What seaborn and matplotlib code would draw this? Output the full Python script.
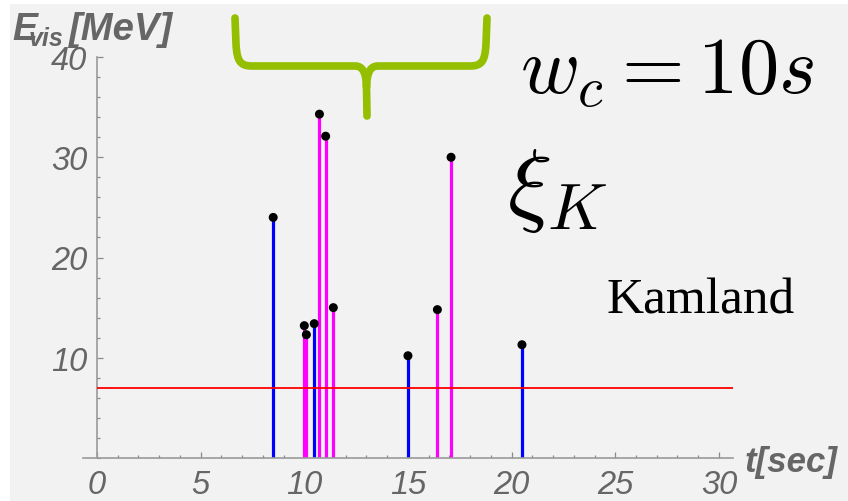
import numpy as np
import pandas as pd
import matplotlib
matplotlib.use("Agg")
import matplotlib.pyplot as plt
import seaborn as sns
from matplotlib.path import Path
from matplotlib.patches import PathPatch, Rectangle
from matplotlib.ticker import MultipleLocator, FixedLocator

# ---- data ----
blue_t = [8.5, 10.48, 15.0, 20.5]
blue_e = [24.0, 13.4, 10.2, 11.3]
magenta_t = [10.0, 10.1, 10.73, 11.03, 11.4, 16.42, 17.08]
magenta_e = [13.2, 12.3, 34.3, 32.1, 15.0, 14.8, 30.0]
threshold = 7.0
x_ticks = [0, 5, 10, 15, 20, 25, 30]
y_ticks = [10, 20, 30, 40]

df = pd.DataFrame({
    "t": blue_t + magenta_t,
    "E": blue_e + magenta_e,
    "kind": ["blue"] * len(blue_t) + ["magenta"] * len(magenta_t),
})

sns.set_style("ticks")
plt.rcParams["font.family"] = ["Liberation Sans", "DejaVu Sans"]

W, H = 848, 502
fig = plt.figure(figsize=(W / 100, H / 100), dpi=100, facecolor="#f2f2f2")
# white strips at the top and left edge
fig.patches.append(Rectangle((0, 1 - 5 / H), 1, 5 / H, transform=fig.transFigure,
                             facecolor="white", edgecolor="none", zorder=-10))
fig.patches.append(Rectangle((0, 0), 10 / W, 1, transform=fig.transFigure,
                             facecolor="white", edgecolor="none", zorder=-10))

def fx(px):
    return px / W

def fy(py):
    return 1 - py / H

ax = fig.add_axes([fx(83), 43 / H, (733 - 83) / W, (459 - 58) / H])
ax.set_facecolor("none")
ax.set_xlim((83 - 97) / 20.73, (733 - 97) / 20.73)
ax.set_ylim(0, 40)

palette = {"blue": "#0000ff", "magenta": "#ff00ff"}
ax.vlines(df["t"], 0, df["E"], colors=[palette[k] for k in df["kind"]], lw=2.3, zorder=2)
ax.hlines(threshold, 0, (733 - 97) / 20.73, colors="#ff0000", lw=1.3, zorder=3)
sns.scatterplot(data=df, x="t", y="E", color="black", s=42, edgecolor="none",
                zorder=5, ax=ax, legend=False)
ax.set_xlabel("")
ax.set_ylabel("")

# spines
for s in ["top", "right"]:
    ax.spines[s].set_visible(False)
ax.spines["left"].set_position(("data", 0))
for s in ["left", "bottom"]:
    ax.spines[s].set_color("#9a9a9a")
    ax.spines[s].set_linewidth(1.2)

ax.xaxis.set_major_locator(FixedLocator(x_ticks))
ax.xaxis.set_minor_locator(MultipleLocator(1))
ax.yaxis.set_major_locator(FixedLocator(y_ticks))
ax.yaxis.set_minor_locator(MultipleLocator(2))
ax.set_xticklabels([str(v) for v in x_ticks])
ax.set_yticklabels([str(v) for v in y_ticks])
ax.tick_params(which="both", direction="in", color="#8a8a8a", width=0.9)
ax.tick_params(which="major", length=4.5)
ax.tick_params(which="minor", length=2.5)
ax.tick_params(axis="x", which="major", pad=8)
ax.tick_params(axis="y", which="major", pad=7)
for lab in ax.get_xticklabels() + ax.get_yticklabels():
    lab.set_fontsize(23.5)
    lab.set_fontstyle("italic")
    lab.set_color("#666666")

# axis labels
fig.text(fx(12), fy(40), "E", fontsize=27, fontweight="bold", fontstyle="italic",
         color="#666666", va="baseline", ha="left")
fig.text(fx(29), fy(46), "vis", fontsize=18, fontweight="bold", fontstyle="italic",
         color="#666666", va="baseline", ha="left")
fig.text(fx(68), fy(40), "[MeV]", fontsize=27.5, fontweight="bold", fontstyle="italic",
         color="#666666", va="baseline", ha="left")
fig.text(fx(745), fy(472), "t[sec]", fontsize=25, fontweight="bold", fontstyle="italic",
         color="#666666", va="baseline", ha="left")

# annotations
fig.text(fx(520), fy(93), r"$w_c = 10s$", fontsize=58, math_fontfamily="cm",
         color="black", va="baseline", ha="left")
fig.text(fx(507), fy(214), r"$\xi_K$", fontsize=67, math_fontfamily="cm",
         color="black", va="baseline", ha="left")
fig.text(fx(606), fy(313), "Kamland", fontsize=37, family="Liberation Serif",
         color="black", va="baseline", ha="left")

# green brace (in figure pixel coordinates)
def P(x, y):
    return (fx(x), fy(y))

M, L, C = Path.MOVETO, Path.LINETO, Path.CURVE4
verts = [P(235, 19), P(236, 45), P(237, 62), P(240, 67), P(252, 67), P(355, 67),
         P(362, 67), P(366, 72), P(366.5, 88), P(367, 117),
         P(487, 19), P(486, 45), P(485, 62), P(482, 67), P(470, 67), P(378, 67),
         P(371, 67), P(367, 72), P(366.5, 88)]
codes = [M, L, C, C, C, L, C, C, C, L,
         M, L, C, C, C, L, C, C, C]
brace = PathPatch(Path(verts, codes), transform=fig.transFigure, facecolor="none",
                  edgecolor="#94be00", lw=5.5, capstyle="round", joinstyle="round")
fig.patches.append(brace)

fig.savefig("out.png", dpi=100, facecolor=fig.get_facecolor())
